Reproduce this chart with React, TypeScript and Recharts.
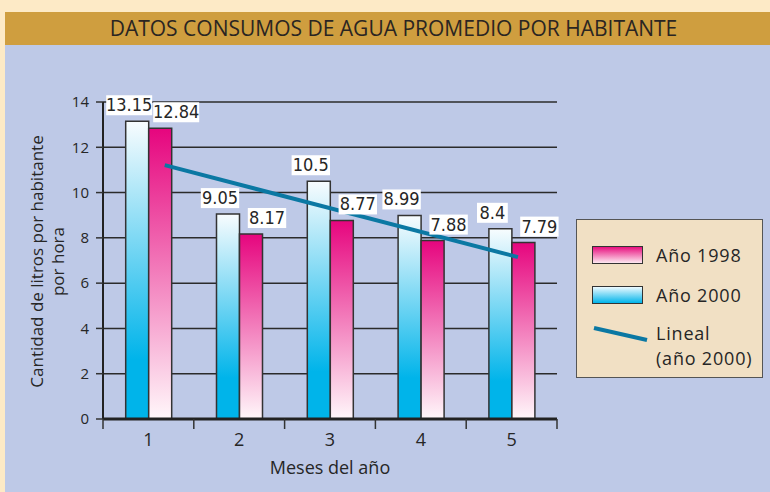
import { Bar, CartesianGrid, ComposedChart, LabelList, Legend, Line, XAxis, YAxis } from "recharts";

const months = ["1", "2", "3", "4", "5"];
const year2000 = [13.15, 9.05, 10.5, 8.99, 8.4];
const year1998 = [12.84, 8.17, 8.77, 7.88, 7.79];
const yTicks = [0, 2, 4, 6, 8, 10, 12, 14];
// recta "Lineal (año 2000)" tal como aparece en el gráfico
const trendMonth = [1.18, 5.07];
const trendValue = [11.21, 7.15];

const data = months.map((m, i) => ({ month: m, y2000: year2000[i], y1998: year1998[i] }));
const trend = trendMonth.map((m, i) => ({ m, v: trendValue[i] }));

const SANS = '"Open Sans", "DejaVu Sans", sans-serif';
const NARROW = '"Liberation Sans Narrow", "DejaVu Sans Condensed", "Open Sans", sans-serif';
const TREND = "#0b78a3";
const INK = "#262626";

const makeBarLabel = (shift: number) => (props: any) => {
  const { x, y, width, value } = props;
  const text = String(value);
  const w = text.length * 7.6 + 8;
  const cx = Number(x) + Number(width) / 2 + shift;
  const bottom = Number(y) - 6;
  return (
    <g>
      <rect x={cx - w / 2} y={bottom - 20} width={w} height={20} fill="#fff" />
      <text x={cx} y={bottom - 4} textAnchor="middle" fontSize={18} fontFamily={NARROW} fill={INK}>
        {text}
      </text>
    </g>
  );
};

const monthTick = (props: any) => {
  const { x, y, payload, index } = props;
  const half = payload?.offset || 45.4;
  const last = index === months.length - 1;
  return (
    <g>
      <line x1={x - half} x2={x - half} y1={y - 14} y2={y - 4} stroke="#333" strokeWidth={1.5} />
      {last && <line x1={x + half} x2={x + half} y1={y - 14} y2={y - 4} stroke="#333" strokeWidth={1.5} />}
      <text x={x} y={y} dy="0.72em" textAnchor="middle" fontSize={18} fontFamily={SANS} fill={INK}>
        {payload.value}
      </text>
    </g>
  );
};

const yLabel = (props: any) => {
  const vb = props.viewBox || { x: 0, y: 102, height: 317 };
  const cy = vb.y + vb.height / 2 + 1;
  return (
    <g fill={INK} fontSize={17} fontFamily={SANS}>
      <text x={36} y={cy} transform={`rotate(-90 36 ${cy})`} textAnchor="middle" dominantBaseline="central">
        Cantidad de litros por habitante
      </text>
      <text x={57} y={cy} transform={`rotate(-90 57 ${cy})`} textAnchor="middle" dominantBaseline="central">
        por hora
      </text>
    </g>
  );
};

const legendText = (center: number): React.CSSProperties => ({
  position: "absolute",
  left: 79,
  top: center - 12.5,
  lineHeight: "25px",
  whiteSpace: "nowrap",
});

const swatch = (top: number, bg: string): React.CSSProperties => ({
  position: "absolute",
  left: 15,
  top,
  width: 51,
  height: 18,
  boxSizing: "border-box",
  border: "1.5px solid #333",
  background: bg,
});

const renderLegend = () => (
  <div
    style={{
      position: "relative",
      width: 187,
      height: 159,
      boxSizing: "border-box",
      border: "1.5px solid #555",
      background: "#f1e0c4",
      fontFamily: SANS,
      fontSize: 18,
      letterSpacing: 0.8,
      color: INK,
    }}
  >
    <div style={swatch(26, "linear-gradient(#e8107f, #fde8f1)")} />
    <span style={legendText(35)}>Año 1998</span>
    <div style={swatch(66, "linear-gradient(#eefaff, #00b4ea)")} />
    <span style={legendText(75)}>Año 2000</span>
    <svg width={187} height={159} style={{ position: "absolute", left: 0, top: 0 }}>
      <line x1={17} y1={108} x2={70} y2={120} stroke={TREND} strokeWidth={4} />
    </svg>
    <span style={legendText(113)}>Lineal</span>
    <span style={legendText(138)}>(año 2000)</span>
  </div>
);

export default function App() {
  return (
    <div style={{ position: "relative", width: 770, height: 492, background: "#fdeac6", overflow: "hidden" }}>
      <style>{"body{margin:0}"}</style>
      <div
        style={{
          position: "absolute",
          left: 5,
          top: 12,
          width: 765,
          height: 33,
          background: "#cf9e3f",
          color: "#2a2522",
          fontFamily: SANS,
          fontSize: 21,
          lineHeight: "33px",
          textAlign: "center",
          paddingLeft: 12,
          boxSizing: "border-box",
        }}
      >
        DATOS CONSUMOS DE AGUA PROMEDIO POR HABITANTE
      </div>
      <div style={{ position: "absolute", left: 5, top: 45, width: 765, height: 447, background: "#bec9e7" }} />
      <div style={{ position: "absolute", left: 0, top: 0 }}>
        <ComposedChart
          width={770}
          height={492}
          data={data}
          margin={{ top: 102, right: 213, bottom: 0, left: 0 }}
          barCategoryGap="25%"
          barGap={0}
        >
          <defs>
            <linearGradient id="blueFill" x1="0" y1="0" x2="0" y2="1">
              <stop offset="0%" stopColor="#f8fcfe" />
              <stop offset="80%" stopColor="#00b4ea" />
              <stop offset="100%" stopColor="#00b4ea" />
            </linearGradient>
            <linearGradient id="pinkFill" x1="0" y1="0" x2="0" y2="1">
              <stop offset="0%" stopColor="#e6057e" />
              <stop offset="100%" stopColor="#fff7fa" />
            </linearGradient>
          </defs>
          <CartesianGrid xAxisId="c" vertical={false} stroke="#2b2b2b" strokeWidth={1.5} />
          <XAxis
            xAxisId="c"
            dataKey="month"
            height={73}
            axisLine={{ stroke: "#222", strokeWidth: 3 }}
            tickLine={false}
            tickSize={10}
            tickMargin={4}
            tick={monthTick}
            label={{ value: "Meses del año", position: "insideBottom", offset: 18, fill: INK, fontSize: 18, fontFamily: SANS }}
          />
          <XAxis xAxisId="t" type="number" dataKey="m" domain={[0.5, 5.5]} allowDataOverflow hide />
          <YAxis
            width={103}
            domain={[0, 14]}
            ticks={yTicks}
            interval={0}
            axisLine={{ stroke: "#222", strokeWidth: 2 }}
            tickLine={{ stroke: "#333", strokeWidth: 1.5 }}
            tickSize={7}
            tickMargin={7}
            tick={{ fill: INK, fontSize: 15, fontFamily: SANS }}
            label={yLabel}
          />
          <Legend
            layout="horizontal"
            verticalAlign="middle"
            align="center"
            content={renderLegend}
            wrapperStyle={{ left: 576, top: 219, width: 187, height: 159 }}
          />
          <Bar xAxisId="c" dataKey="y2000" name="Año 2000" fill="url(#blueFill)" stroke="#333" strokeWidth={1.5} isAnimationActive={false}>
            <LabelList dataKey="y2000" content={makeBarLabel(-8)} />
          </Bar>
          <Bar xAxisId="c" dataKey="y1998" name="Año 1998" fill="url(#pinkFill)" stroke="#333" strokeWidth={1.5} isAnimationActive={false}>
            <LabelList dataKey="y1998" content={makeBarLabel(16)} />
          </Bar>
          <Line
            xAxisId="t"
            data={trend}
            dataKey="v"
            stroke={TREND}
            strokeWidth={4}
            dot={false}
            isAnimationActive={false}
            legendType="none"
          />
        </ComposedChart>
      </div>
    </div>
  );
}
